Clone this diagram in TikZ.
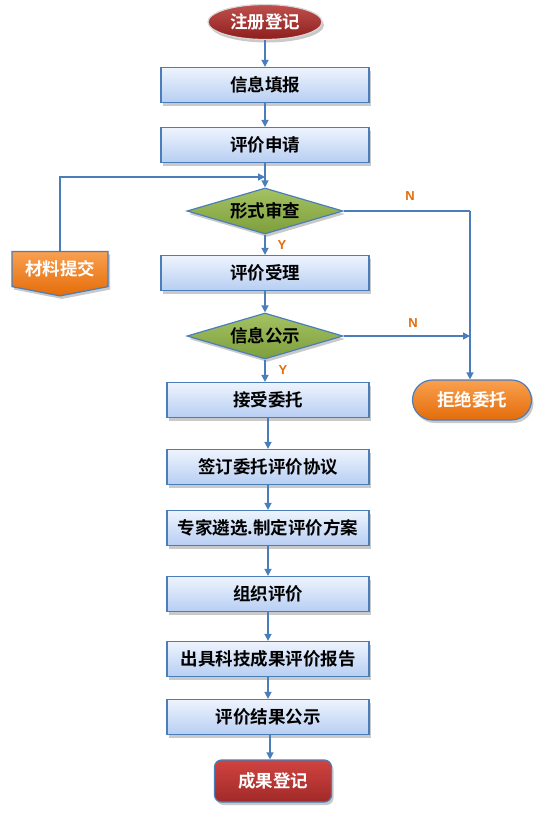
\documentclass[tikz,border=0pt]{standalone}
\usepackage{fontspec}
\setmainfont{Noto Sans CJK SC}[BoldFont={Noto Sans CJK SC Bold}]
\newfontfamily\latinb{Liberation Sans}
\usetikzlibrary{shapes.geometric,shapes.symbols,shadows,arrows.meta}
\definecolor{lineblue}{HTML}{4A7EBB}
\definecolor{boxtop}{HTML}{EEF4FD}
\definecolor{boxbot}{HTML}{B7CEF3}
\definecolor{ylab}{HTML}{E46C0A}
\definecolor{gtop}{HTML}{A4C262}
\definecolor{gbot}{HTML}{7E9E3C}
\definecolor{otop}{HTML}{F9A04F}
\definecolor{obot}{HTML}{E46C0A}
\definecolor{rtop}{HTML}{D04340}
\definecolor{rbot}{HTML}{A02A28}
\definecolor{etop}{HTML}{C0504D}
\definecolor{ebot}{HTML}{8E1E1C}
\tikzset{
  shad/.style={drop shadow={shadow xshift=2pt,shadow yshift=-3pt,opacity=0.3,fill=black!70}},
  txt/.style={font=\bfseries\fontsize{17.5}{20}\selectfont},
  procbox/.style={draw=lineblue,line width=1.2pt,top color=boxtop,bottom color=boxbot,
     minimum height=35pt,inner sep=0pt,txt,text=black,shad},
  decis/.style={diamond,draw=lineblue,line width=1.2pt,top color=gtop,bottom color=gbot,
     aspect=3.5,minimum width=156pt,minimum height=46pt,inner sep=0pt,
     txt,text=black,shad},
  conn/.style={draw=lineblue,line width=1.4pt,-{Triangle[length=7pt,width=7pt]}},
  plain/.style={draw=lineblue,line width=1.4pt},
  yn/.style={text=ylab,font=\latinb\bfseries\fontsize{13}{15}\selectfont,inner sep=0pt}
}
\begin{document}
\begin{tikzpicture}[x=1pt,y=-1pt]
\useasboundingbox (0,0) rectangle (554,815);
% start
\node[ellipse,draw=black!15,line width=1.2pt,top color=etop,bottom color=ebot,
  minimum width=114pt,minimum height=35pt,inner sep=0pt,text=white,txt,shad]
  (start) at (265,22) {注册登记};
\node[procbox,minimum width=208pt] (fill) at (265,85) {信息填报};
\node[procbox,minimum width=208pt] (apply) at (265,145) {评价申请};
\node[decis] (form) at (265,211) {形式审查};
\node[procbox,minimum width=208pt] (accept) at (265,273) {评价受理};
\node[decis] (pub) at (265,336) {信息公示};
\node[procbox,minimum width=202pt] (entr) at (268,400) {接受委托};
\node[procbox,minimum width=202pt] (sign) at (268,467) {签订委托评价协议};
\node[procbox,minimum width=202pt] (expert) at (268,528) {专家遴选.制定评价方案};
\node[procbox,minimum width=202pt] (org) at (268,594) {组织评价};
\node[procbox,minimum width=202pt] (report) at (268,659) {出具科技成果评价报告};
\node[procbox,minimum width=202pt] (respub) at (268,717) {评价结果公示};
\node[rectangle,rounded corners=7pt,draw=lineblue,line width=1.2pt,top color=rtop,bottom color=rbot,
  minimum width=117pt,minimum height=42pt,inner sep=0pt,text=white,txt,shad]
  (done) at (273,781) {成果登记};
\node[rectangle,rounded corners=20pt,draw=lineblue,line width=1.2pt,top color=otop,bottom color=obot,
  minimum width=119pt,minimum height=40pt,inner sep=0pt,text=white,txt,shad]
  (reject) at (472,400) {拒绝委托};
\node[signal,signal to=south,signal from=nowhere,signal pointer angle=158,draw=lineblue,line width=1.2pt,
  top color=otop,bottom color=obot,minimum width=96pt,minimum height=42pt,inner sep=0pt,
  text=white,txt,shad] (mat) at (60,269) {材料提交};
% coordinates
\coordinate (loopin) at (265,177);
\coordinate (nright) at (470,211);
\coordinate (njoin) at (470,336);
% connectors
\draw[conn] (start) -- (fill);
\draw[conn] (fill) -- (apply);
\draw[conn] (apply) -- (form);
\draw[conn] (mat.north) |- (loopin);
\draw[conn] (form) -- (accept);
\draw[conn] (accept) -- (pub);
\draw[conn] (pub.south) -- (pub.south |- entr.north);
\draw[conn] (entr.south) -- (entr.south |- sign.north);
\draw[conn] (sign) -- (expert);
\draw[conn] (expert) -- (org);
\draw[conn] (org) -- (report);
\draw[conn] (report) -- (respub);
\draw[conn] (respub.south -| 270,0) -- (270,0 |- done.north);
\draw[plain] (form.east) -- (nright);
\draw[conn] (nright) -- (nright |- reject.north);
\draw[conn] (pub.east) -- (njoin);
% labels
\node[yn] (n1) at (410,196) {N};
\node[yn] (n2) at (413,323) {N};
\node[yn] (y1) at (282,245) {Y};
\node[yn] (y2) at (283,370) {Y};
\end{tikzpicture}
\end{document}
